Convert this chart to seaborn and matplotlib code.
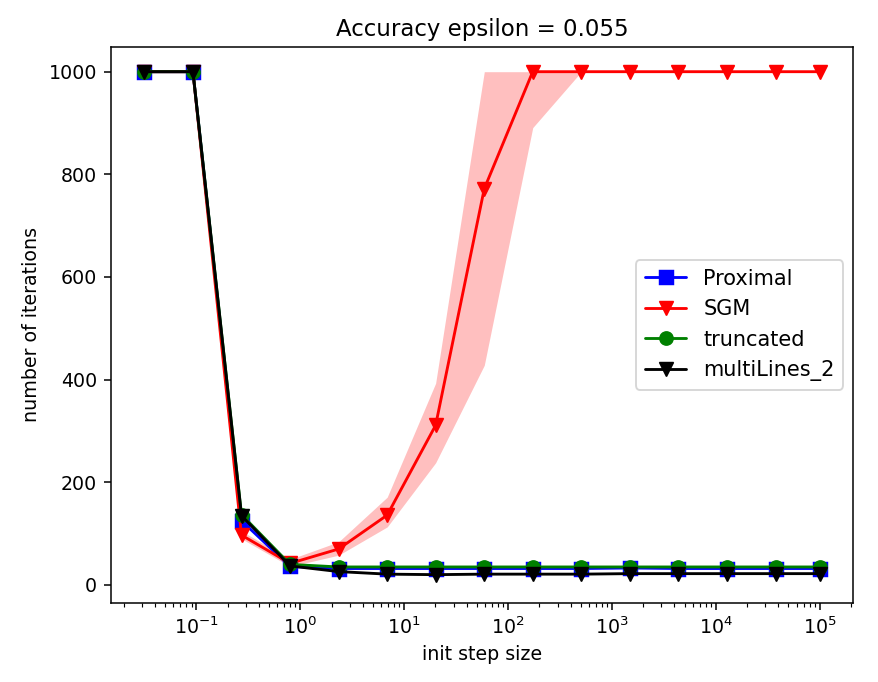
import numpy as np
import pandas as pd
import seaborn as sns
import matplotlib
matplotlib.use('Agg')
import matplotlib.pyplot as plt

# step sizes (log spaced, 10^-1.5 .. 10^5)
step_size = [0.0316, 0.0927, 0.272, 0.798, 2.34, 6.87, 20.1, 59.1, 173.0,
             508.0, 1492.0, 4375.0, 12834.0, 37649.0, 100000.0]

proximal = [1000, 1000, 125, 36, 32, 32, 32, 32, 32, 32, 33, 32, 32, 32, 32]
sgm = [1000, 1000, 97, 42, 70, 136, 311, 772, 1000, 1000, 1000, 1000, 1000, 1000, 1000]
sgm_low = [1000, 1000, 90, 36, 58, 113, 238, 428, 891, 1000, 1000, 1000, 1000, 1000, 1000]
sgm_high = [1000, 1000, 105, 50, 84, 171, 393, 1000, 1000, 1000, 1000, 1000, 1000, 1000, 1000]
truncated = [1000, 1000, 137, 40, 35, 35, 35, 35, 35, 35, 35, 35, 35, 35, 35]
multilines = [1000, 1000, 135, 37, 26, 21, 20, 21, 21, 21, 22, 22, 22, 22, 22]

df = pd.DataFrame({'step': step_size, 'Proximal': proximal, 'SGM': sgm,
                   'truncated': truncated, 'multiLines_2': multilines})

sns.set_style('ticks', rc={'text.color': 'black', 'axes.labelcolor': 'black',
                           'xtick.color': 'black', 'ytick.color': 'black',
                           'axes.edgecolor': 'black'})
plt.rcParams['font.family'] = ['DejaVu Sans']

fig, ax = plt.subplots(figsize=(878 / 137, 682 / 137), dpi=137)
fig.subplots_adjust(left=0.126, right=0.972, top=0.931, bottom=0.116)

# shaded spread for SGM
ax.fill_between(step_size, sgm_low, sgm_high, color='red', alpha=0.25, linewidth=0)

styles = [('Proximal', 'blue', 's'), ('SGM', 'red', 'v'),
          ('truncated', 'green', 'o'), ('multiLines_2', 'black', 'v')]
for name, col, mk in styles:
    sns.lineplot(data=df, x='step', y=name, color=col, marker=mk, markersize=7,
                 markeredgecolor=col, linewidth=1.5, label=name, ax=ax)

ax.set_xscale('log')
ax.set_ylim(-35, 1048)
ax.set_yticks([0, 200, 400, 600, 800, 1000])
ax.set_title('Accuracy epsilon = 0.055', fontsize=12)
ax.set_xlabel('init step size')
ax.set_ylabel('number of iterations')
ax.legend(loc='center right', fontsize=11, fancybox=True)

fig.savefig('out.png', dpi=137)
